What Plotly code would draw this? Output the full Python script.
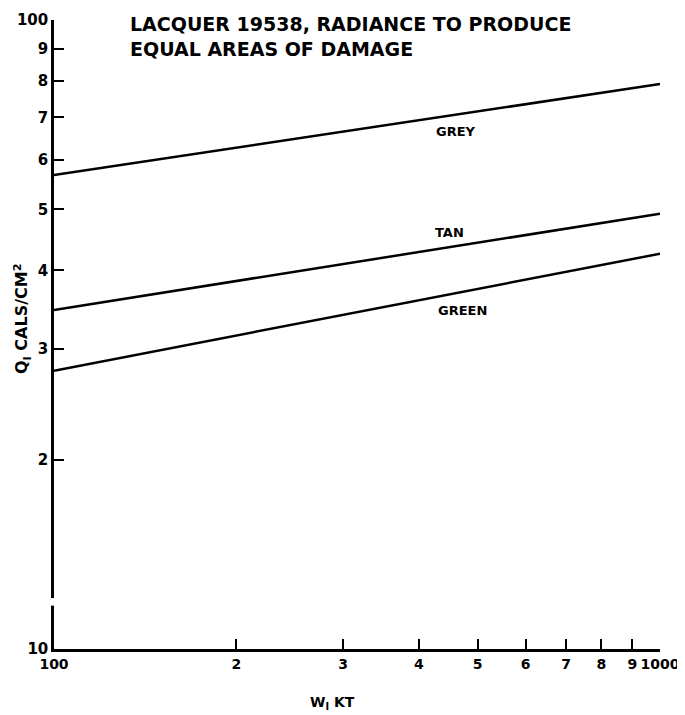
import math
import plotly.graph_objects as go

# yield W (KT) at the two ends of each line
w_kt = [100, 1000]

# radiant exposure Q (cal/cm2) read at the ends
grey_q = [56.7, 79.1]
tan_q = [34.6, 49.2]
green_q = [27.7, 42.5]

x_ticks = [100, 200, 300, 400, 500, 600, 700, 800, 900, 1000]
x_labels = ["100", "2", "3", "4", "5", "6", "7", "8", "9", "1000"]
y_ticks = [10, 20, 30, 40, 50, 60, 70, 80, 90, 100]
y_labels = ["10", "2", "3", "4", "5", "6", "7", "8", "9", "100"]

FONT = "DejaVu Sans"

fig = go.Figure()

for q in (grey_q, tan_q, green_q):
    fig.add_trace(go.Scatter(
        x=w_kt, y=q, mode="lines",
        line=dict(color="black", width=2.5),
        showlegend=False,
    ))

# curve labels (annotations on log axes take log10 positions)
for text, x, y in [("GREY", 460, 66.6), ("TAN", 450, 46.0), ("GREEN", 473, 34.5)]:
    fig.add_annotation(
        x=math.log10(x), y=math.log10(y), xref="x", yref="y",
        text=f"<b>{text}</b>", showarrow=False,
        font=dict(family=FONT, size=13, color="black"),
    )

# title block inside the plot
fig.add_annotation(
    xref="paper", yref="paper", x=0.122, y=1.015,
    xanchor="left", yanchor="top", align="left",
    text="<b>LACQUER 19538, RADIANCE TO PRODUCE<br>EQUAL AREAS OF DAMAGE</b>",
    showarrow=False, font=dict(family=FONT, size=19, color="black"),
)

# axis titles
fig.add_annotation(
    xref="paper", yref="paper", x=0.46, y=-0.086,
    xanchor="center", yanchor="middle",
    text="<b>W<sub>I</sub> KT</b>", showarrow=False,
    font=dict(family=FONT, size=14, color="black"),
)
fig.add_annotation(
    xref="paper", yref="paper", x=-0.053, y=0.526, textangle=-90,
    xanchor="center", yanchor="middle",
    text="<b>Q<sub>I</sub> CALS/CM<sup>2</sup></b>", showarrow=False,
    font=dict(family=FONT, size=16, color="black"),
)

# small break in the y axis line, as on the original sheet
fig.add_shape(
    type="rect", xref="paper", yref="paper",
    x0=-0.006, x1=0.006, y0=0.069, y1=0.081,
    fillcolor="white", line=dict(width=0), layer="above",
)

fig.update_xaxes(
    type="log", range=[2, 3], automargin=False,
    tickvals=x_ticks, ticktext=[f"<b>{t}</b>" for t in x_labels],
    tickangle=0,
    ticks="inside", ticklen=10, tickwidth=1.5, tickcolor="black",
    showline=True, linecolor="black", linewidth=2.5,
    showgrid=False, zeroline=False,
    tickfont=dict(family=FONT, size=14, color="black"),
)
fig.update_yaxes(
    type="log", range=[1, 2], automargin=False,
    tickvals=y_ticks, ticktext=[f"<b>{t}</b>" for t in y_labels],
    ticks="inside", ticklen=10, tickwidth=1.5, tickcolor="black",
    showline=True, linecolor="black", linewidth=2.5,
    showgrid=False, zeroline=False,
    tickfont=dict(family=FONT, size=15, color="black"),
)

fig.update_layout(
    width=677, height=707,
    margin=dict(l=46, r=25, t=12, b=66),
    plot_bgcolor="white", paper_bgcolor="white",
    font=dict(family=FONT, color="black"),
)

fig.write_html("out.html")
